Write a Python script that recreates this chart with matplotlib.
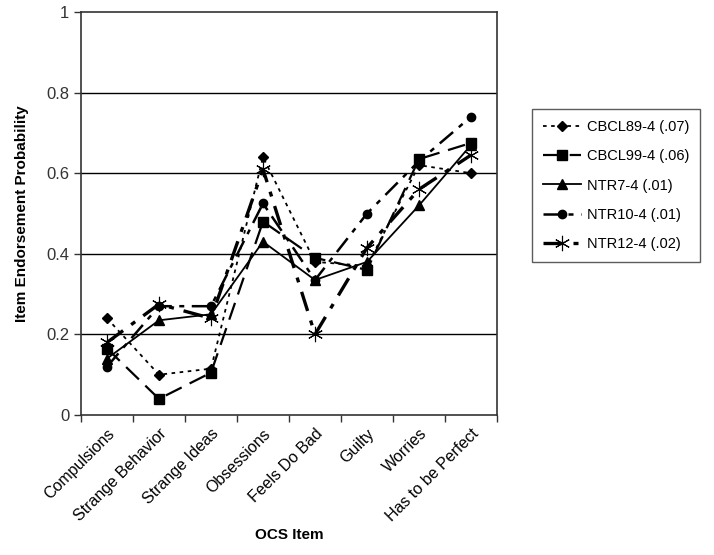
import matplotlib
matplotlib.use("Agg")
import matplotlib.pyplot as plt
import matplotlib.transforms as mtransforms
import numpy as np

plt.rcParams['font.family'] = ['Liberation Sans', 'DejaVu Sans']

categories = ["Compulsions", "Strange Behavior", "Strange Ideas", "Obsessions",
              "Feels Do Bad", "Guilty", "Worries", "Has to be Perfect"]
cbcl89 = [0.24, 0.10, 0.115, 0.64, 0.38, 0.37, 0.62, 0.60]
cbcl99 = [0.165, 0.04, 0.105, 0.48, 0.39, 0.36, 0.635, 0.675]
ntr7 = [0.14, 0.235, 0.25, 0.43, 0.335, 0.38, 0.52, 0.67]
ntr10 = [0.12, 0.27, 0.27, 0.525, 0.335, 0.50, 0.63, 0.74]
ntr12 = [0.18, 0.275, 0.24, 0.61, 0.20, 0.415, 0.56, 0.645]
labels = ["CBCL89-4 (.07)", "CBCL99-4 (.06)", "NTR7-4 (.01)", "NTR10-4 (.01)", "NTR12-4 (.02)"]
yticks = [0, 0.2, 0.4, 0.6, 0.8, 1]

fig = plt.figure(figsize=(7.14, 5.55), dpi=100)
ax = fig.add_axes([81/714, 1-415/555, (497-81)/714, (415-12)/555])

x = np.arange(len(categories))
styles = [
    dict(ls=(0, (2, 2.5)), marker='D', ms=5.5, lw=1.3),
    dict(ls=(0, (8, 4)), marker='s', ms=7, lw=1.6),
    dict(ls='-', marker='^', ms=7, lw=1.3),
    dict(ls=(0, (7, 3, 2, 3)), marker='o', ms=6, lw=1.8),
    dict(ls=(0, (6, 3, 1.5, 3)), marker=(6, 2, 0), ms=11, lw=2.4, mew=0.8),
]
series = [cbcl89, cbcl99, ntr7, ntr10, ntr12]
handles = []
for s, lab, st in zip(series, labels, styles):
    h, = ax.plot(x, s, color='black', label=lab, markerfacecolor='black',
                 markeredgecolor='black', **st)
    handles.append(h)

ax.set_xlim(-0.5, len(categories) - 0.5)
ax.set_ylim(0, 1)
ax.set_yticks(yticks)
ax.set_yticklabels(["0", "0.2", "0.4", "0.6", "0.8", "1"], fontsize=12, color='#333333')
ax.set_xticks(x)
ax.set_xticklabels(categories, rotation=45, ha='right', rotation_mode='anchor', fontsize=11.5)
offset = mtransforms.ScaledTranslation(-8/100, 0, fig.dpi_scale_trans)
for lbl in ax.get_xticklabels():
    lbl.set_transform(lbl.get_transform() + offset)
ax.set_xticks(np.arange(-0.5, len(categories) + 0.5, 1), minor=True)
ax.tick_params(axis='x', which='major', length=0, pad=8)
ax.tick_params(axis='x', which='minor', length=5, direction='out', width=1, color='#333333')
ax.tick_params(axis='y', length=5, direction='out', width=1, color='#333333')
for y in yticks[1:-1]:
    ax.axhline(y, color='black', lw=1.0, zorder=0)
for sp in ax.spines.values():
    sp.set_color('#333333')
    sp.set_linewidth(1.2)

ax.set_ylabel("Item Endorsement Probability", fontsize=11, fontweight='bold', labelpad=12)
ax.set_xlabel("OCS Item", fontsize=11, fontweight='bold', labelpad=3)

leg = fig.legend(handles=handles, loc='upper left',
                 bbox_to_anchor=(532/714, 1-109/555), fontsize=10.5,
                 frameon=True, fancybox=False, edgecolor='#333333',
                 handlelength=2.6, labelspacing=1.05, borderpad=0.75,
                 handletextpad=0.4, borderaxespad=0)
leg.get_frame().set_linewidth(1.0)

fig.savefig("out.png", dpi=100)
